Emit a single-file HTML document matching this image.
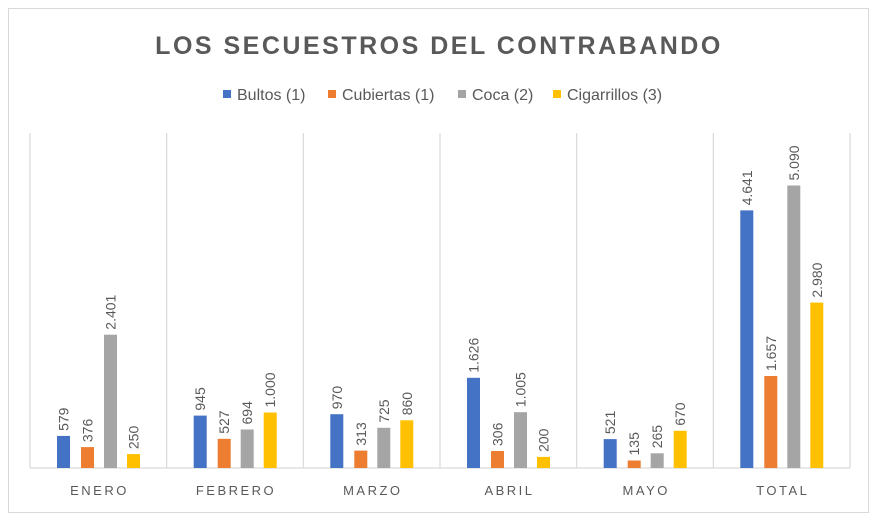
<!DOCTYPE html>
<html><head><meta charset="utf-8"><style>
html,body{margin:0;padding:0;background:#fff;}
svg{display:block;font-family:"Liberation Sans",sans-serif;}
</style></head><body>
<svg width="878" height="526" viewBox="0 0 878 526" xmlns="http://www.w3.org/2000/svg">
<rect x="0" y="0" width="878" height="526" fill="#fff"/>
<rect x="8.5" y="8.5" width="860" height="504" fill="#fff" stroke="#d9d9d9"/>
<text x="439" y="54" text-anchor="middle" font-size="25" font-weight="bold" fill="#595959" letter-spacing="2.5">LOS SECUESTROS DEL CONTRABANDO</text>
<g font-size="16" fill="#595959">
<rect x="223" y="90" width="8" height="8" fill="#4472c4"/><text x="237" y="100">Bultos (1)</text>
<rect x="328" y="90" width="8" height="8" fill="#ed7d31"/><text x="342" y="100">Cubiertas (1)</text>
<rect x="458" y="90" width="8" height="8" fill="#a5a5a5"/><text x="472" y="100">Coca (2)</text>
<rect x="553" y="90" width="8" height="8" fill="#ffc000"/><text x="567" y="100">Cigarrillos (3)</text>
</g>
<g stroke="#d9d9d9" stroke-width="1.2">
<line x1="30" y1="133" x2="30" y2="468"/>
<line x1="166.7" y1="133" x2="166.7" y2="468"/>
<line x1="303.3" y1="133" x2="303.3" y2="468"/>
<line x1="440" y1="133" x2="440" y2="468"/>
<line x1="576.7" y1="133" x2="576.7" y2="468"/>
<line x1="713.3" y1="133" x2="713.3" y2="468"/>
<line x1="850" y1="133" x2="850" y2="468"/>
<line x1="30" y1="468" x2="850" y2="468"/>
</g>
<g>
<rect x="57" y="435.9" width="13" height="32.1" fill="#4472c4"/>
<rect x="81" y="447.1" width="13" height="20.9" fill="#ed7d31"/>
<rect x="104" y="334.7" width="13" height="133.3" fill="#a5a5a5"/>
<rect x="127" y="454.1" width="13" height="13.9" fill="#ffc000"/>
<rect x="193.7" y="415.6" width="13" height="52.4" fill="#4472c4"/>
<rect x="217.7" y="438.8" width="13" height="29.2" fill="#ed7d31"/>
<rect x="240.7" y="429.5" width="13" height="38.5" fill="#a5a5a5"/>
<rect x="263.7" y="412.5" width="13" height="55.5" fill="#ffc000"/>
<rect x="330.3" y="414.2" width="13" height="53.8" fill="#4472c4"/>
<rect x="354.3" y="450.6" width="13" height="17.4" fill="#ed7d31"/>
<rect x="377.3" y="427.8" width="13" height="40.2" fill="#a5a5a5"/>
<rect x="400.3" y="420.3" width="13" height="47.7" fill="#ffc000"/>
<rect x="467" y="377.8" width="13" height="90.2" fill="#4472c4"/>
<rect x="491" y="451" width="13" height="17" fill="#ed7d31"/>
<rect x="514" y="412.2" width="13" height="55.8" fill="#a5a5a5"/>
<rect x="537" y="456.9" width="13" height="11.1" fill="#ffc000"/>
<rect x="603.7" y="439.1" width="13" height="28.9" fill="#4472c4"/>
<rect x="627.7" y="460.5" width="13" height="7.5" fill="#ed7d31"/>
<rect x="650.7" y="453.3" width="13" height="14.7" fill="#a5a5a5"/>
<rect x="673.7" y="430.8" width="13" height="37.2" fill="#ffc000"/>
<rect x="740.3" y="210.4" width="13" height="257.6" fill="#4472c4"/>
<rect x="764.3" y="376" width="13" height="92" fill="#ed7d31"/>
<rect x="787.3" y="185.5" width="13" height="282.5" fill="#a5a5a5"/>
<rect x="810.3" y="302.6" width="13" height="165.4" fill="#ffc000"/>
</g>
<g font-size="14" fill="#595959">
<text transform="translate(68.5,430.9) rotate(-90)">579</text>
<text transform="translate(92.5,442.1) rotate(-90)">376</text>
<text transform="translate(115.5,329.7) rotate(-90)">2.401</text>
<text transform="translate(138.5,449.1) rotate(-90)">250</text>
<text transform="translate(205.2,410.6) rotate(-90)">945</text>
<text transform="translate(229.2,433.8) rotate(-90)">527</text>
<text transform="translate(252.2,424.5) rotate(-90)">694</text>
<text transform="translate(275.2,407.5) rotate(-90)">1.000</text>
<text transform="translate(341.8,409.2) rotate(-90)">970</text>
<text transform="translate(365.8,445.6) rotate(-90)">313</text>
<text transform="translate(388.8,422.8) rotate(-90)">725</text>
<text transform="translate(411.8,415.3) rotate(-90)">860</text>
<text transform="translate(478.5,372.8) rotate(-90)">1.626</text>
<text transform="translate(502.5,446) rotate(-90)">306</text>
<text transform="translate(525.5,407.2) rotate(-90)">1.005</text>
<text transform="translate(548.5,451.9) rotate(-90)">200</text>
<text transform="translate(615.2,434.1) rotate(-90)">521</text>
<text transform="translate(639.2,455.5) rotate(-90)">135</text>
<text transform="translate(662.2,448.3) rotate(-90)">265</text>
<text transform="translate(685.2,425.8) rotate(-90)">670</text>
<text transform="translate(751.8,205.4) rotate(-90)">4.641</text>
<text transform="translate(775.8,371) rotate(-90)">1.657</text>
<text transform="translate(798.8,180.5) rotate(-90)">5.090</text>
<text transform="translate(821.8,297.6) rotate(-90)">2.980</text>
</g>
<g font-size="13" fill="#595959" text-anchor="middle" letter-spacing="2.5">
<text x="99.5" y="495">ENERO</text>
<text x="236" y="495">FEBRERO</text>
<text x="372.8" y="495">MARZO</text>
<text x="509.5" y="495">ABRIL</text>
<text x="646.2" y="495">MAYO</text>
<text x="782.8" y="495">TOTAL</text>
</g>
</svg>
</body></html>
